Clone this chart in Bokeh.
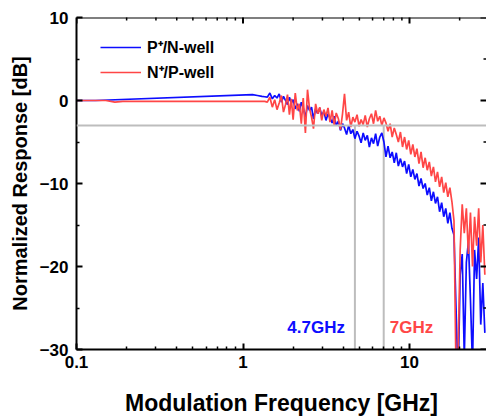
import math
from bokeh.plotting import figure
from bokeh.models import (FixedTicker, Span, Legend, LegendItem,
                          Label, CustomJSTickFormatter, Range1d, ColumnDataSource)
from bokeh.embed import file_html
from bokeh.resources import INLINE

# ---------------- data ----------------
freq_noisy_ghz = [1.30, 1.35, 1.40, 1.45, 1.50, 1.55, 1.60, 1.65, 1.70, 1.75, 1.80, 1.85, 1.90, 1.95, 2.00,
                  2.06, 2.12, 2.18, 2.24, 2.30, 2.37, 2.44, 2.51, 2.58, 2.65, 2.73, 2.81, 2.89, 2.97,
                  3.06, 3.15, 3.24, 3.33, 3.43, 3.53, 3.63, 3.74, 3.85, 3.96,
                  4.07, 4.19, 4.31, 4.44, 4.57, 4.70, 4.84, 4.98,
                  5.12, 5.27, 5.42, 5.58, 5.74, 5.91, 6.08, 6.26, 6.44, 6.63, 6.82,
                  7.02, 7.22, 7.43, 7.65, 7.87, 8.10, 8.33, 8.57, 8.82, 9.08, 9.34, 9.61, 9.89,
                  10.18, 10.47, 10.77, 11.08, 11.40, 11.73, 12.07, 12.42, 12.78, 13.15, 13.53, 13.92,
                  14.32, 14.73, 15.16, 15.60, 16.05, 16.51, 16.99, 17.48, 17.98, 18.50, 19.03, 19.58,
                  20.15, 20.73, 21.33, 21.95, 22.58, 23.23, 23.90, 24.59, 25.30, 26.03, 26.78, 27.56, 28.35]

# P+/N-well (blue)
blue_lowf_ghz = [0.10, 0.13, 1.14, 1.22]
blue_lowf_db = [0.0, 0.0, 0.7, 0.6]
blue_noisy_db = [0.5, 0.45, 0.4, 0.9, 0.2, 0.6, 0.3, 0.8, -0.2, 0.5, 0.0, -0.5, 0.4, -0.3, 0.1,
                 -1.0, -0.4, -1.3, -0.2, -0.9, -2.0, -0.6, -1.2, -0.8, -2.2, -1.0, -1.6, -0.9, -1.8,
                 -1.3, -2.4, -1.6, -2.1, -2.7, -1.9, -3.0, -2.5, -3.6, -2.8,
                 -3.3, -4.1, -3.0, -4.0, -3.5, -4.6, -3.7, -4.3,
                 -5.1, -3.9, -4.8, -4.2, -5.6, -4.5, -5.2, -4.0, -5.5, -4.4, -3.9,
                 -5.0, -6.8, -5.5, -6.9, -6.2, -7.5, -6.3, -7.9, -7.0, -8.0, -7.3, -8.8, -7.7,
                 -9.2, -8.3, -9.5, -8.8, -10.3, -9.4, -10.6, -10.0, -11.4, -10.5, -12.1, -11.0,
                 -12.4, -11.6, -13.4, -12.3, -14.0, -13.0, -14.8, -13.5, -15.4, -16.2, -25.0, -34.0,
                 -21.0, -18.5, -31.0, -19.5, -17.0, -24.0, -32.0, -18.0, -21.5, -16.5, -27.0, -22.0, -28.0]

# N+/P-well (red)
red_lowf_ghz = [0.10, 0.15, 0.17, 0.19, 1.25]
red_lowf_db = [0.0, 0.0, -0.2, -0.1, -0.1]
red_noisy_db = [-0.1, -0.1, -0.2, 0.4, -0.8, 0.1, -1.1, -0.3, 0.6, -1.4, -0.5, 0.7, -1.7, 0.2, -2.3,
                0.9, -1.2, -0.4, -2.8, 0.3, -3.9, 1.3, -1.0, -2.0, -3.4, -0.4, -1.6, -0.8, -2.4,
                -1.1, -1.9, -0.9, -2.6, -1.2, -3.0, -1.5, -2.2, -3.5, -1.6,
                0.8, -2.4, -1.4, -3.2, -2.0, -2.6, -1.7, -3.1,
                -2.3, -2.9, -1.8, -3.2, -2.2, -1.6, -2.8, -1.2, -2.5, -1.9, -3.0,
                -2.1, -2.7, -3.7, -2.8, -4.4, -3.3, -4.1, -5.0, -3.8, -5.6, -4.4, -5.9, -4.8,
                -6.5, -5.3, -6.8, -5.8, -7.6, -6.2, -8.1, -6.9, -8.4, -7.4, -9.1, -8.0,
                -9.8, -8.6, -10.4, -9.2, -11.1, -9.9, -11.6, -10.5, -12.2, -14.5, -33.0, -30.5,
                -18.0, -12.5, -16.0, -13.0, -18.5, -13.5, -20.0, -14.0, -17.5, -13.0, -19.5, -15.0, -21.0]

series_labels = ["P\u207a/N-well", "N\u207a/P-well"]
bandwidth_ghz = [4.7, 7.0]
bandwidth_labels = ["4.7GHz", "7GHz"]
threshold_db = -3.0

x_major = [0.1, 1, 10]
x_minor = [0.2, 0.3, 0.4, 0.5, 0.6, 0.7, 0.8, 0.9, 2, 3, 4, 5, 6, 7, 8, 9, 20]
y_major = [-30, -20, -10, 0, 10]
y_minor = [-25, -15, -5, 5]
x_lim = (0.1, 29.0)

# ---------------- plot ----------------
BLUE = "#0d0dff"
RED = "#ff4646"
GRAY = "#bdbdbd"
FONT = "Liberation Sans"
Y_TOP = y_major[-1]

p = figure(width=486, height=418, x_axis_type="log",
           x_range=Range1d(*x_lim), y_range=Range1d(y_major[0], Y_TOP),
           output_backend="svg", toolbar_location=None,
           min_border_left=76, min_border_right=0, min_border_top=17, min_border_bottom=69)
p.outline_line_color = None
p.xgrid.visible = False
p.ygrid.visible = False
p.background_fill_color = "white"
p.border_fill_color = "white"

# reference lines
p.add_layout(Span(location=threshold_db, dimension="width", line_color=GRAY, line_width=2))
seg = ColumnDataSource(dict(x=bandwidth_ghz, y0=[y_major[0]] * len(bandwidth_ghz),
                            y1=[threshold_db] * len(bandwidth_ghz)))
p.segment(x0="x", y0="y0", x1="x", y1="y1", source=seg, line_color=GRAY, line_width=2)

blue_src = ColumnDataSource(dict(f=blue_lowf_ghz + freq_noisy_ghz, r=blue_lowf_db + blue_noisy_db))
red_src = ColumnDataSource(dict(f=red_lowf_ghz + freq_noisy_ghz, r=red_lowf_db + red_noisy_db))
rb = p.line("f", "r", source=blue_src, line_color=BLUE, line_width=1.7)
rr = p.line("f", "r", source=red_src, line_color=RED, line_width=1.7)

# top frame line with inward ticks (mirrored axis)
p.add_layout(Span(location=Y_TOP, dimension="width", line_color="black", line_width=2))
p.scatter(x=x_major, y=[Y_TOP] * len(x_major), marker="dash", angle=math.pi / 2,
          size=12, line_color="black", line_width=2)
p.scatter(x=x_minor, y=[Y_TOP] * len(x_minor), marker="dash", angle=math.pi / 2,
          size=6, line_color="black", line_width=1.5)
# right-edge inward ticks (the right frame line itself is cut off)
p.scatter(x=[x_lim[1]] * len(y_major), y=y_major, marker="dash",
          size=12, line_color="black", line_width=2)
p.scatter(x=[x_lim[1]] * len(y_minor), y=y_minor, marker="dash",
          size=6, line_color="black", line_width=1.5)

legend = Legend(items=[LegendItem(label=series_labels[0], renderers=[rb]),
                       LegendItem(label=series_labels[1], renderers=[rr])],
                location=(24, 266), orientation="vertical",
                border_line_color=None, background_fill_alpha=0,
                label_text_font=FONT, label_text_font_style="bold", label_text_font_size="16px",
                label_text_color="black",
                glyph_width=41, glyph_height=20, label_standoff=6, spacing=3, padding=0, margin=0,
                label_height=20)
p.add_layout(legend)

# bandwidth labels
p.add_layout(Label(x=bandwidth_ghz[0], y=-27.3, text=bandwidth_labels[0], x_offset=-10,
                   text_align="right", text_baseline="middle", text_color=BLUE,
                   text_font=FONT, text_font_style="bold", text_font_size="17px"))
p.add_layout(Label(x=bandwidth_ghz[1], y=-27.3, text=bandwidth_labels[1], x_offset=6,
                   text_align="left", text_baseline="middle", text_color=RED,
                   text_font=FONT, text_font_style="bold", text_font_size="17px"))


def style_axis(ax):
    ax.axis_line_width = 2
    ax.axis_line_color = "black"
    ax.major_tick_in = 6
    ax.major_tick_out = 0
    ax.minor_tick_in = 3
    ax.minor_tick_out = 0
    ax.major_tick_line_color = "black"
    ax.minor_tick_line_color = "black"
    ax.major_tick_line_width = 2
    ax.minor_tick_line_width = 1.5
    ax.major_label_text_font = FONT
    ax.major_label_text_font_style = "bold"
    ax.major_label_text_font_size = "17px"
    ax.major_label_text_color = "black"
    ax.axis_label_text_font = FONT
    ax.axis_label_text_font_style = "bold"
    ax.axis_label_text_color = "black"


xa = p.xaxis[0]
xa.ticker = FixedTicker(ticks=x_major, minor_ticks=x_minor)
xa.formatter = CustomJSTickFormatter(code="return tick.toString();")
style_axis(xa)
xa.axis_label = "Modulation Frequency [GHz]"
xa.axis_label_text_font_size = "23px"
xa.major_label_standoff = 6
xa.axis_label_standoff = 19

ya = p.yaxis[0]
ya.ticker = FixedTicker(ticks=y_major, minor_ticks=y_minor)
style_axis(ya)
ya.axis_label = "Normalized Response [dB]"
ya.axis_label_text_font_size = "20px"
ya.major_label_standoff = 8
ya.axis_label_standoff = 6

open("out.html", "w").write(file_html(p, INLINE))
